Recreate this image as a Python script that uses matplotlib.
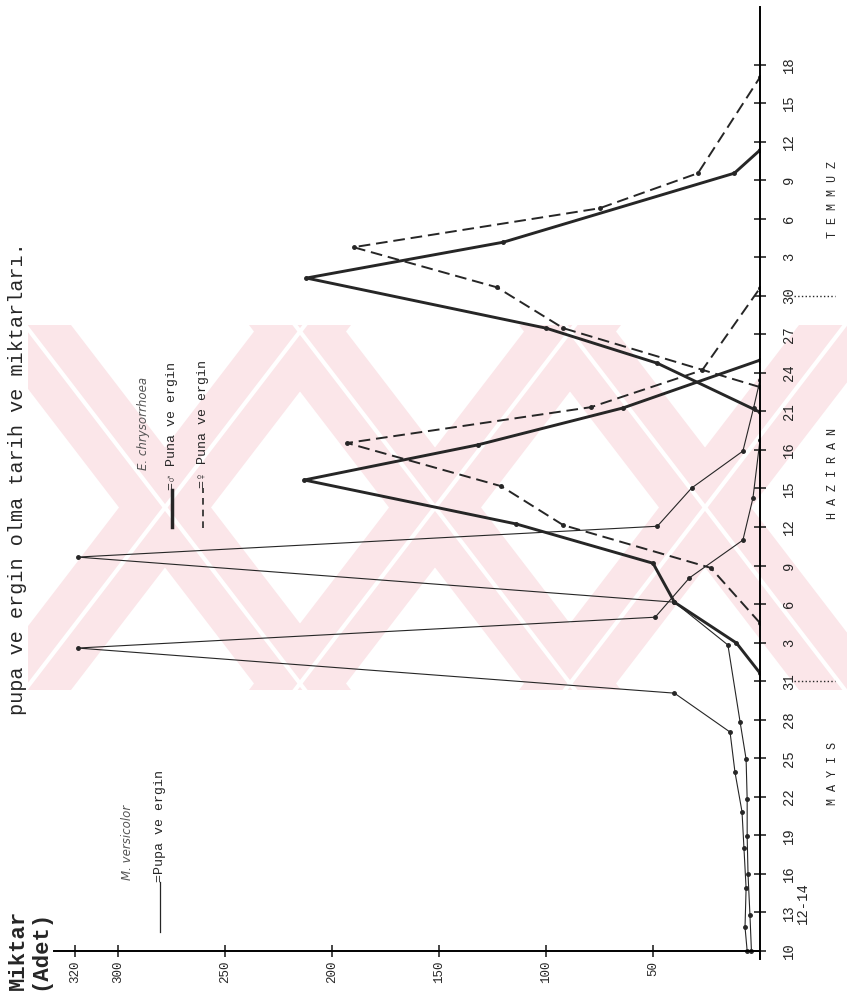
import matplotlib
matplotlib.use('Agg')
import matplotlib.pyplot as plt
from matplotlib.lines import Line2D
from matplotlib.patches import Polygon, Rectangle

W, H = 847, 992

# tarih ekseni (3 gunluk adimlar, 10 Mayis -> 18 Temmuz)
date_labels = ['10', '13', '16', '19', '22', '25', '28', '31', '3', '6', '9', '12',
               '15', '16', '21', '24', '27', '30', '3', '6', '9', '12', '15', '18']
count_ticks = [50, 100, 150, 200, 250, 300, 320]
months = ['M A Y I S', 'H A Z İ R A N', 'T E M M U Z']
month_pos = [4.6, 12.4, 19.5]

# M. versicolor - pupa ve ergin (ince cizgiler); pos = tarih ekseni konumu
mv1_pos = [0, 0.62, 1.63, 2.67, 3.61, 4.64, 5.68, 6.69, 7.86, 8.66, 9.68, 10.66, 11.75, 13.26]
mv1_val = [6, 7, 6.5, 7.5, 8.4, 11.7, 14, 40, 319, 49, 33, 8, 3.3, 0]
mv2_pos = [0, 0.93, 2.0, 2.98, 3.94, 4.98, 5.94, 7.94, 9.05, 10.22, 11.02, 12.01, 12.97, 14.09, 14.81]
mv2_val = [4, 4.7, 5.6, 6, 6, 6.5, 9.3, 15, 40, 319, 48, 32, 8, 3, 0]

# E. chrysorrhoea erkek (kalin duz cizgi): pupa ve ergin
ecm1_pos = [7.21, 7.99, 9.05, 10.06, 11.08, 12.22, 13.13, 14.09, 15.33]
ecm1_val = [0, 11, 40, 50, 114, 213, 132, 64, 0]
ecm2_pos = [13.98, 15.25, 16.16, 17.46, 18.39, 20.18, 20.78]
ecm2_val = [0, 48, 100, 212, 120, 12, 0]

# E. chrysorrhoea disi (kesikli cizgi): pupa ve ergin
ecf1_pos = [8.51, 9.94, 11.05, 12.06, 13.18, 14.11, 15.07, 17.2]
ecf1_val = [0, 23, 92, 121, 193, 79, 27, 0]
ecf2_pos = [14.63, 16.16, 17.22, 18.26, 19.27, 20.18, 22.67]
ecf2_val = [0, 92, 123, 190, 75, 29, 0]

ink = '#262626'
mono = ['Liberation Mono', 'DejaVu Sans Mono', 'DejaVu Sans']


def fx(px):
    return px / W


def fy(py):
    return 1 - py / H


fig = plt.figure(figsize=(W / 100, H / 100), dpi=100)
fig.patch.set_facecolor('white')

# arka plandaki pembe filigran
bg = fig.add_axes([0, 0, 1, 1], zorder=-5)
bg.set_xlim(0, W)
bg.set_ylim(H, 0)
bg.axis('off')
band = Rectangle((28, 325), W, 365, transform=bg.transData)
pink = '#fbe6e9'
for cx in (165, 435, 705):
    for sgn in (1, -1):
        x0, x1 = cx - sgn * 140, cx + sgn * 140
        poly = Polygon([(x0 - 46, 325), (x0 + 46, 325), (x1 + 46, 690), (x1 - 46, 690)],
                       facecolor=pink, edgecolor='none')
        bg.add_patch(poly)
        poly.set_clip_path(band)
        ln, = bg.plot([x0, x1], [325, 690], color='white', lw=3)
        ln.set_clip_path(band)

ax = fig.add_axes([54 / W, 1 - 958.7 / H, 706 / W, 952 / H])
ax.patch.set_alpha(0)
ax.set_xlim(330, 0)
ax.set_ylim(-0.2, 24.5)

ax.plot(mv1_val, mv1_pos, color=ink, lw=0.8, marker='o', ms=2.5)
ax.plot(mv2_val, mv2_pos, color=ink, lw=0.8, marker='o', ms=2.5)
ax.plot(ecm1_val, ecm1_pos, color=ink, lw=2.1, marker='o', ms=2.5)
ax.plot(ecm2_val, ecm2_pos, color=ink, lw=2.1, marker='o', ms=2.5)
ax.plot(ecf1_val, ecf1_pos, color=ink, lw=1.4, dashes=(6, 3), marker='o', ms=2.5)
ax.plot(ecf2_val, ecf2_pos, color=ink, lw=1.4, dashes=(6, 3), marker='o', ms=2.5)

ax.spines['left'].set_visible(False)
ax.spines['top'].set_visible(False)
ax.spines['right'].set_linewidth(1.4)
ax.spines['bottom'].set_linewidth(1.4)
ax.spines['bottom'].set_position(('data', 0))

ax.yaxis.tick_right()
ax.set_yticks(range(len(date_labels)))
ax.set_yticklabels(date_labels, rotation=90, va='center', ha='left',
                   family=mono, fontsize=10, color=ink)
ax.tick_params(axis='y', direction='inout', length=8, width=1.2, pad=12, colors=ink)

ax.set_xticks(count_ticks)
ax.set_xticklabels([str(t) for t in count_ticks], rotation=90, ha='center', va='top',
                   family=mono, fontsize=9, color='#444444')
ax.tick_params(axis='x', direction='inout', length=8, width=1.2, pad=3, colors=ink)

# ay adlari ve ayiricilar
for name, p in zip(months, month_pos):
    ax.text(-34, p, name, rotation=90, ha='center', va='center', family=mono,
            fontsize=8.5, color=ink, clip_on=False)
ax.text(-20, 1.25, '12-14', rotation=90, ha='center', va='center', family=mono,
        fontsize=10, color=ink, clip_on=False)
for p in (7, 17):
    ax.plot([-16, -35], [p, p], ls=':', color=ink, lw=1, clip_on=False)

# basliklar
fig.text(fx(17), fy(715), 'pupa ve ergin olma tarih ve miktarları.', rotation=90,
         rotation_mode='anchor', ha='left', va='center', family=mono, fontsize=14.5, color=ink)
fig.text(fx(18), fy(990), 'Miktar', rotation=90, rotation_mode='anchor', ha='left',
         va='center', family=mono, fontsize=16, weight='bold', color=ink)
fig.text(fx(40), fy(990), '(Adet)', rotation=90, rotation_mode='anchor', ha='left',
         va='center', family=mono, fontsize=16, weight='bold', color=ink)

# aciklama (E. chrysorrhoea)
fig.text(fx(143), fy(470), 'E. chrysorrhoea', rotation=90, rotation_mode='anchor',
         ha='left', va='center', style='italic', fontsize=8.5, color='#555555')
fig.add_artist(Line2D([fx(172), fx(172)], [fy(527), fy(490)], lw=2.5, color=ink))
fig.text(fx(172), fy(490), '=♂ Puna ve ergin', rotation=90, rotation_mode='anchor',
         ha='left', va='center', family=mono, fontsize=9.5, color=ink)
fig.add_artist(Line2D([fx(203), fx(203)], [fy(528), fy(488)], lw=1.2, color=ink,
                      dashes=(4, 3)))
fig.text(fx(203), fy(488), '=♀ Puna ve ergin', rotation=90, rotation_mode='anchor',
         ha='left', va='center', family=mono, fontsize=9.5, color=ink)

# aciklama (M. versicolor)
fig.text(fx(127), fy(880), 'M. versicolor', rotation=90, rotation_mode='anchor',
         ha='left', va='center', style='italic', fontsize=8.5, color='#555555')
fig.add_artist(Line2D([fx(160), fx(160)], [fy(932), fy(882)], lw=0.9, color=ink))
fig.text(fx(160), fy(882), '=Pupa ve ergin', rotation=90, rotation_mode='anchor',
         ha='left', va='center', family=mono, fontsize=9.5, color=ink)

fig.savefig('out.png', dpi=100)
